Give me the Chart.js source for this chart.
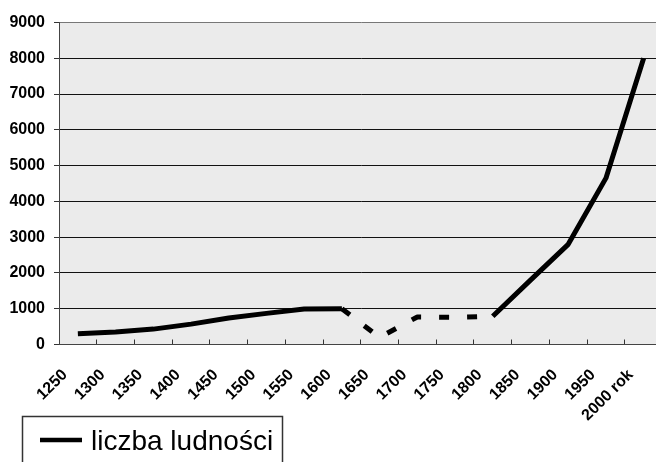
<!DOCTYPE html>
<html>
<head>
<meta charset="utf-8">
<script src="https://cdn.jsdelivr.net/npm/chart.js@4.4.1/dist/chart.umd.min.js"></script>
<style>
  html, body { margin: 0; padding: 0; background: #fff; overflow: hidden; }
  #chart { display: block; }
</style>
</head>
<body>
<canvas id="chart" width="664" height="462"></canvas>
<script>
const years = ["1250", "1300", "1350", "1400", "1450", "1500", "1550", "1600",
  "1650", "1700", "1750", "1800", "1850", "1900", "1950", "2000 rok"];
const population = [300, 350, 430, 570, 740, 870, 990, 1000,
  200, 770, 760, 790, 1800, 2800, 4650, 8000];
const yTicks = [0, 1000, 2000, 3000, 4000, 5000, 6000, 7000, 8000, 9000];
const seriesName = "liczba ludności";

// the stretch 1600-1800 is drawn dashed (uncertain values)
const gapStart = years.indexOf("1600");
const gapEnd = years.indexOf("1800");

const fontFamily = '"Liberation Sans", Arial, sans-serif';
Chart.defaults.font.family = fontFamily;

const plotBackground = {
  id: "plotBackground",
  beforeDraw(chart) {
    const { ctx, chartArea: a } = chart;
    ctx.save();
    ctx.fillStyle = "#ebebeb";
    ctx.fillRect(a.left, a.top, a.right - a.left, a.bottom - a.top);
    ctx.restore();
  },
};

// boxed legend in the bottom-left corner, like the original
const boxLegend = {
  id: "boxLegend",
  afterDraw(chart) {
    const ctx = chart.ctx;
    const ds = chart.data.datasets[0];
    ctx.save();
    ctx.strokeStyle = "#333";
    ctx.lineWidth = 1.5;
    ctx.strokeRect(22.5, 416.5, 260, 70);
    ctx.strokeStyle = ds.borderColor;
    ctx.lineWidth = 4.5;
    ctx.beginPath();
    ctx.moveTo(40, 440);
    ctx.lineTo(82, 440);
    ctx.stroke();
    ctx.fillStyle = "#000";
    ctx.font = "28px " + fontFamily;
    ctx.textBaseline = "alphabetic";
    ctx.fillText(ds.label, 91, 450);
    ctx.restore();
  },
};

const ctx = document.getElementById("chart");

new Chart(ctx, {
  type: "line",
  data: {
    labels: years,
    datasets: [
      {
        label: seriesName,
        data: population,
        borderColor: "#000",
        borderWidth: 5,
        borderCapStyle: "butt",
        borderJoinStyle: "round",
        pointRadius: 0,
        tension: 0,
        segment: {
          borderDash: (c) =>
            c.p0DataIndex >= gapStart && c.p1DataIndex <= gapEnd ? [10, 18] : undefined,
        },
      },
    ],
  },
  options: {
    responsive: false,
    animation: false,
    layout: { padding: { top: 22.5, right: 1.5, left: 0, bottom: 0 } },
    plugins: {
      legend: { display: false },
      tooltip: { enabled: false },
    },
    scales: {
      x: {
        offset: true,
        afterFit(scale) {
          scale.height = 117.5;
          scale.paddingLeft = 0;
          scale.paddingRight = 0;
        },
        grid: {
          offset: true,
          drawOnChartArea: false,
          drawTicks: true,
          tickLength: -5,
          color: "#333",
        },
        border: { color: "#444", width: 1 },
        ticks: {
          autoSkip: false,
          maxRotation: 45,
          minRotation: 45,
          labelOffset: -13,
          padding: 26,
          color: "#000",
          font: { size: 16, weight: "bold" },
        },
      },
      y: {
        min: yTicks[0],
        max: yTicks[yTicks.length - 1],
        afterFit(scale) {
          scale.width = 59;
        },
        afterBuildTicks(scale) {
          scale.ticks = yTicks.map((v) => ({ value: v }));
        },
        grid: {
          color: (c) => (c.tick && c.tick.value === yTicks[yTicks.length - 1] ? "#777" : "#111"),
          tickLength: 5,
          tickColor: "#333",
        },
        border: { color: "#444", width: 1 },
        ticks: {
          padding: 9,
          color: "#000",
          font: { size: 16, weight: "bold" },
          callback: (v) => String(v),
        },
      },
    },
  },
  plugins: [plotBackground, boxLegend],
});
</script>
</body>
</html>
